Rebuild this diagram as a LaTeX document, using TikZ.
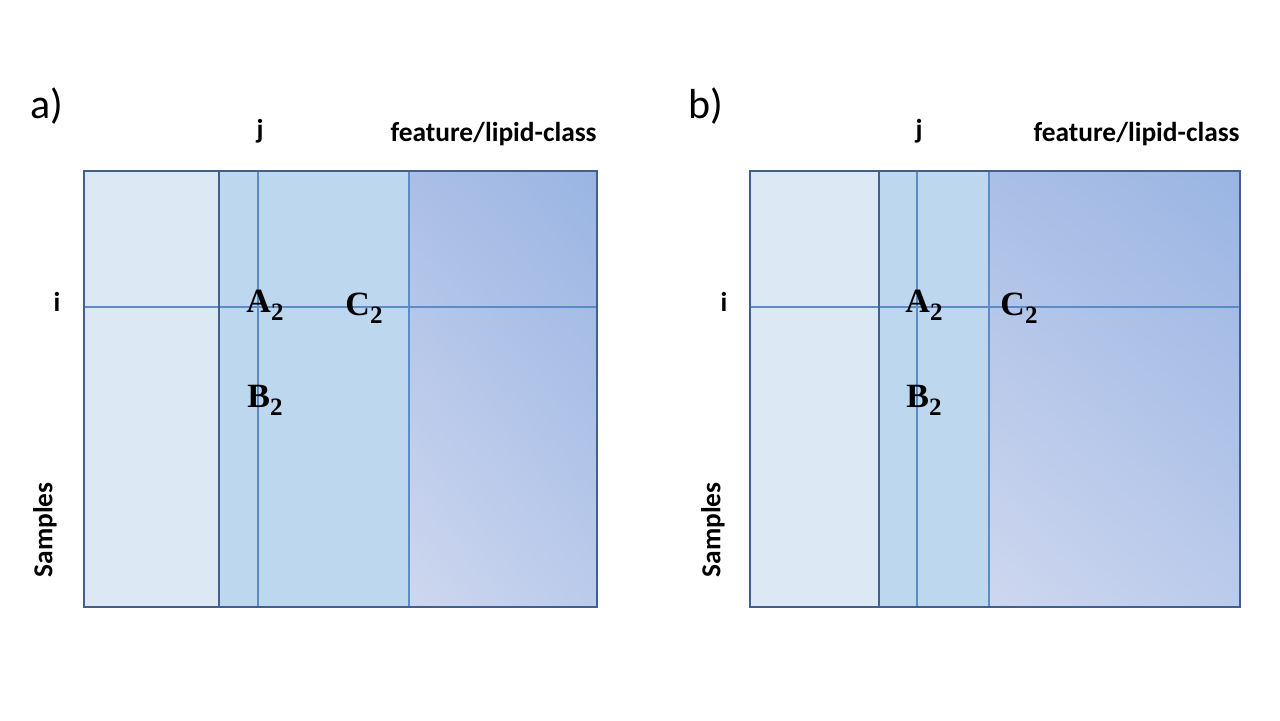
\documentclass[tikz,border=0pt]{standalone}
\usepackage{fontspec}
\setmainfont{Carlito}
\newfontfamily\tnr{Liberation Serif}
\usetikzlibrary{positioning,shadings}
\definecolor{rand}{HTML}{41618C}
\definecolor{linie}{HTML}{5B8CC8}
\definecolor{hell}{HTML}{DDE8F5}
\definecolor{mitte}{HTML}{BDD7EE}
\definecolor{dunkelOR}{HTML}{9AB5E3}
\definecolor{dunkelOL}{HTML}{AABFE6}
\definecolor{dunkelUL}{HTML}{CED7EF}
\definecolor{dunkelUR}{HTML}{BBCBEB}
\newcommand{\idx}[1]{#1\raisebox{-4pt}{\fontsize{12.5}{12}\selectfont 2}}
\tikzset{
  rahmen/.style={draw=rand,line width=1.4pt},
  trenn/.style={draw=rand,line width=1pt},
  duenn/.style={draw=linie,line width=0.6pt},
  achse/.style={font=\bfseries\fontsize{13.7}{16}\selectfont,inner sep=0pt},
  teil/.style={font=\fontsize{21}{24}\selectfont,inner sep=0pt},
  feld/.style={font=\tnr\bfseries\fontsize{17}{19}\selectfont,inner sep=0pt},
  verlauf/.style={upper right=dunkelOR,upper left=dunkelOL,lower left=dunkelUL,lower right=dunkelUR},
}
\begin{document}
\begin{tikzpicture}[x=0.5pt,y=-0.5pt]
  \useasboundingbox[fill=white] (0,0) rectangle (1280,720);
  % panel a
  \fill[hell] (84,171) rectangle (219,607);
  \fill[mitte] (219,171) rectangle (409,607);
  \shade[verlauf] (409,171) rectangle (597,607);
  \draw[duenn] (84,307) -- (597,307);
  \draw[duenn] (258,171) -- (258,607);
  \draw[duenn] (409,171) -- (409,607);
  \draw[trenn] (219,171) -- (219,607);
  \draw[rahmen] (84,171) rectangle (597,607);
  \node[teil] (pa) at (47,106) {a)};
  \node[achse] (ja) at (260,131) {j};
  \node[achse,anchor=east] (fa) at (597,134) {feature/lipid-class};
  \node[achse] (ia) at (57,302) {i};
  \node[achse,rotate=90] (sa) at (45,530) {Samples};
  \node[feld] (a2a) at (265,305) {\idx{A}};
  \node[feld] (c2a) at (364,308) {\idx{C}};
  \node[feld] (b2a) at (265,400) {\idx{B}};
  % panel b
  \fill[hell] (750,171) rectangle (879,607);
  \fill[mitte] (879,171) rectangle (989,607);
  \shade[verlauf] (989,171) rectangle (1240,607);
  \draw[duenn] (750,307) -- (1240,307);
  \draw[duenn] (917,171) -- (917,607);
  \draw[duenn] (989,171) -- (989,607);
  \draw[trenn] (879,171) -- (879,607);
  \draw[rahmen] (750,171) rectangle (1240,607);
  \node[teil] (pb) at (706,106) {b)};
  \node[achse] (jb) at (919,131) {j};
  \node[achse,anchor=east] (fb) at (1240,134) {feature/lipid-class};
  \node[achse] (ib) at (724,302) {i};
  \node[achse,rotate=90] (sb) at (713,530) {Samples};
  \node[feld] (a2b) at (924,305) {\idx{A}};
  \node[feld] (c2b) at (1019,308) {\idx{C}};
  \node[feld] (b2b) at (924,400) {\idx{B}};
\end{tikzpicture}
\end{document}
